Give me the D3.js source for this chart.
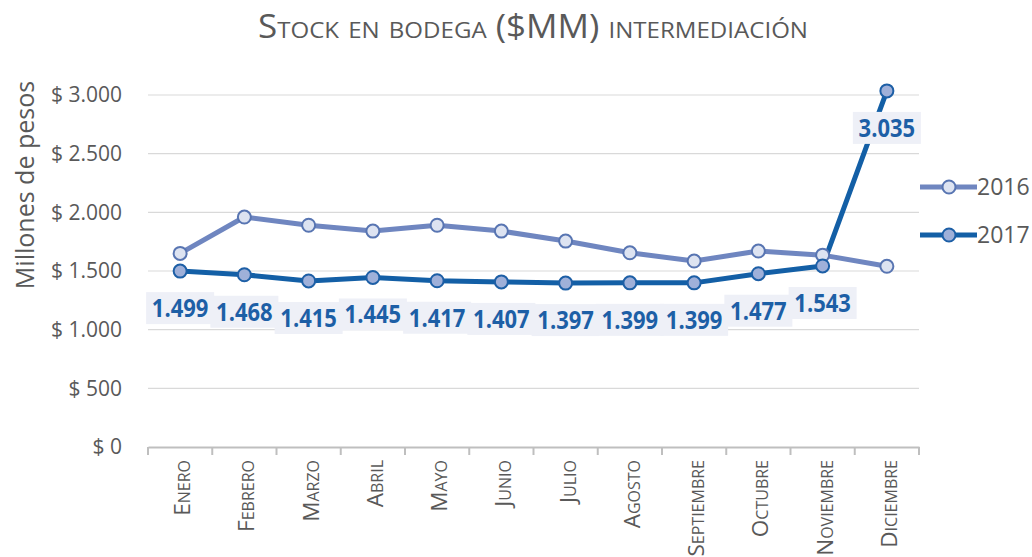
<!DOCTYPE html>
<html><head><meta charset="utf-8">
<script src="https://cdn.jsdelivr.net/npm/d3@7"></script>
<style>
body{margin:0;background:#fff;}
svg{display:block;}
text{font-family:"Open Sans","Noto Sans",sans-serif;}
</style></head>
<body><svg id="c" width="1032" height="557"></svg>
<script>
const months = ["Enero","Febrero","Marzo","Abril","Mayo","Junio","Julio","Agosto","Septiembre","Octubre","Noviembre","Diciembre"];
const series2016 = [1650,1960,1890,1840,1890,1840,1755,1655,1585,1670,1635,1540];
const series2017 = [1499,1468,1415,1445,1417,1407,1397,1399,1399,1477,1543,3035];
const yTicks = [0,500,1000,1500,2000,2500,3000];
const seriesNames = ["2016","2017"];

const svg = d3.select("#c");
const x = d3.scaleBand().domain(months).range([148,919]);
const y = d3.scaleLinear().domain([0,3000]).range([447,95]);
const fmt = v => v.toLocaleString("de-DE");

// gridlines
svg.append("g").selectAll("line").data(yTicks.filter(d=>d>0)).join("line")
  .attr("x1",148).attr("x2",919).attr("y1",d=>y(d)).attr("y2",d=>y(d))
  .attr("stroke","#d9d9d9").attr("stroke-width",1.2);

// y axis labels
const yAx = svg.append("g").attr("transform","translate(148,0)")
  .call(d3.axisLeft(y).tickValues(yTicks).tickSize(0).tickPadding(26).tickFormat(d=>"$ "+fmt(d)));
yAx.select(".domain").remove();
yAx.selectAll("text").attr("font-size",21).attr("fill","#595959").attr("font-family","'Open Sans',sans-serif");

// x axis
const xAx = svg.append("g").attr("transform","translate(0,447)")
  .call(d3.axisBottom(x).tickSize(0).tickFormat(d=>d));
xAx.select(".domain").attr("stroke","#bfbfbf").attr("stroke-width",2);
const edges = months.map(m=>x(m)).concat([919]);
svg.append("g").selectAll("line").data(edges).join("line")
  .attr("x1",d=>d).attr("x2",d=>d).attr("y1",447).attr("y2",455)
  .attr("stroke","#bfbfbf").attr("stroke-width",2);
xAx.selectAll("text")
  .attr("font-size",22.5).attr("fill","#595959").attr("font-family","'Open Sans',sans-serif")
  .style("font-variant","small-caps")
  .attr("text-anchor","end").attr("dy","0.35em")
  .attr("transform","translate(2,13) rotate(-90)").attr("x",0).attr("y",0);

// title
svg.append("text").attr("x",533).attr("y",38).attr("text-anchor","middle")
  .attr("font-size",32).attr("fill","#595959").style("font-variant","small-caps")
  .attr("textLength",550).attr("lengthAdjust","spacingAndGlyphs")
  .text("Stock en bodega ($MM) intermediación");

// y axis title
svg.append("text").attr("transform","translate(34,185) rotate(-90)").attr("text-anchor","middle")
  .attr("font-size",25).attr("fill","#595959").text("Millones de pesos");

const cx = d => x(d) + x.bandwidth()/2;
const line = d3.line().x((d,i)=>cx(months[i])).y(d=>y(d));

const styles = [
  {line:"#6f86c0", mfill:"#dde3f1", mstroke:"#5875b2"},
  {line:"#135fa6", mfill:"#9fb0d9", mstroke:"#1d5fa6"}
];
[series2016,series2017].forEach((s,k)=>{
  svg.append("path").datum(s).attr("d",line).attr("fill","none")
    .attr("stroke",styles[k].line).attr("stroke-width",5).attr("stroke-linejoin","round");
});
[series2016,series2017].forEach((s,k)=>{
  svg.append("g").selectAll("circle").data(s).join("circle")
    .attr("cx",(d,i)=>cx(months[i])).attr("cy",d=>y(d)).attr("r",6.5)
    .attr("fill",styles[k].mfill).attr("stroke",styles[k].mstroke).attr("stroke-width",2);
});

// data labels for 2017
const lg = svg.append("g").selectAll("g").data(series2017).join("g")
  .attr("transform",(d,i)=>`translate(${cx(months[i])},${y(d)+37})`);
lg.append("rect").attr("x",-34).attr("y",-16).attr("width",68).attr("height",32).attr("fill","#eef0f7");
lg.append("text").attr("text-anchor","middle").attr("dy","0.36em")
  .attr("font-size",25).attr("font-weight","bold").attr("fill","#1d5fa6")
  .attr("transform","scale(0.88,1)")
  .text(d=>fmt(d));

// legend
const leg = svg.append("g").selectAll("g").data(seriesNames).join("g")
  .attr("transform",(d,i)=>`translate(920,${187+i*48})`);
leg.append("line").attr("x1",0).attr("x2",57).attr("stroke",(d,i)=>styles[i].line).attr("stroke-width",5);
leg.append("circle").attr("cx",29).attr("r",6.5).attr("fill",(d,i)=>styles[i].mfill).attr("stroke",(d,i)=>styles[i].mstroke).attr("stroke-width",2);
leg.append("text").attr("x",57).attr("dy","0.36em").attr("font-size",23).attr("fill","#595959").text(d=>d);
</script></body></html>
